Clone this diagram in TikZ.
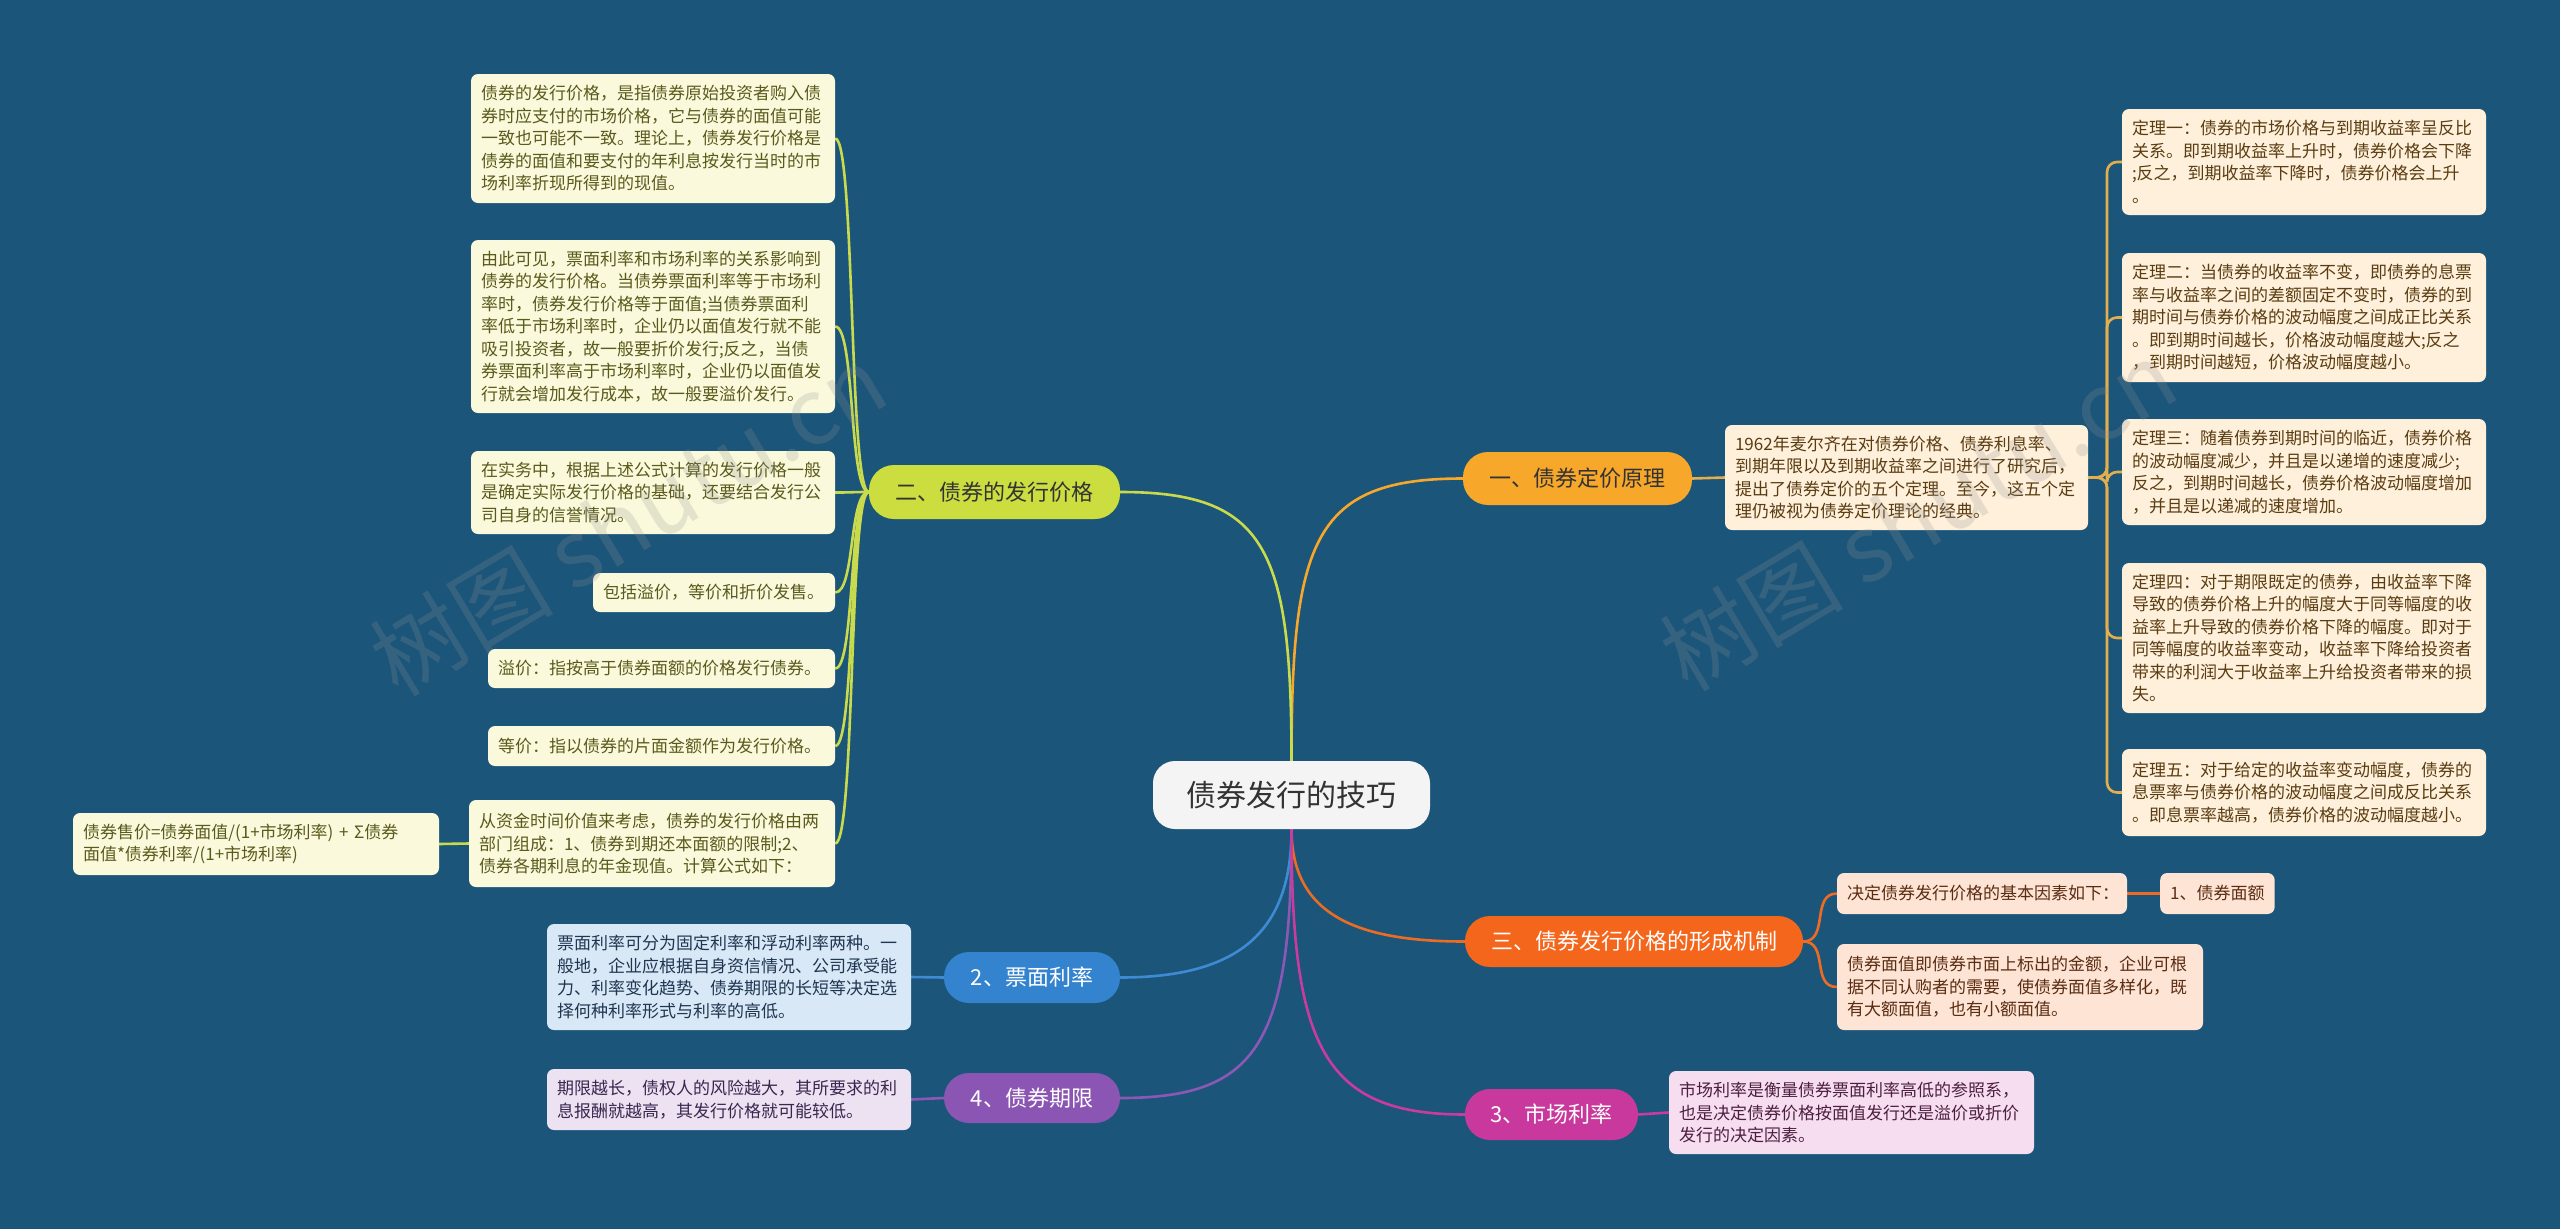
\documentclass[tikz,border=0pt]{standalone}
\usepackage{fontspec}
\setmainfont{Noto Sans CJK SC}
\usetikzlibrary{calc}
\pgfdeclarelayer{back}
\pgfdeclarelayer{bg}
\pgfsetlayers{back,bg,main}
\definecolor{bgc}{HTML}{1B5579}
\definecolor{gfill}{HTML}{FAF9DC}
\definecolor{gtext}{HTML}{5A5A1C}
\definecolor{gline}{HTML}{C9DB4C}
\definecolor{gnode}{HTML}{CBDD3F}
\definecolor{ofill}{HTML}{FEF0DA}
\definecolor{otext}{HTML}{5A3C12}
\definecolor{oline}{HTML}{E2AE4E}
\definecolor{onode}{HTML}{F7A72A}
\definecolor{rfill}{HTML}{FDE4D4}
\definecolor{rtext}{HTML}{5A2C12}
\definecolor{rline}{HTML}{EC6C24}
\definecolor{rnode}{HTML}{F4661C}
\definecolor{bfill}{HTML}{D8E8F6}
\definecolor{btext}{HTML}{1F3550}
\definecolor{bline}{HTML}{3E8AD4}
\definecolor{bnode}{HTML}{3483CF}
\definecolor{pfill}{HTML}{ECE2F1}
\definecolor{ptext}{HTML}{3B2650}
\definecolor{pline}{HTML}{8C58B6}
\definecolor{pnode}{HTML}{8B55B3}
\definecolor{mfill}{HTML}{F6DDF0}
\definecolor{mtext}{HTML}{4C1F40}
\definecolor{mline}{HTML}{C93C9E}
\definecolor{mnode}{HTML}{C9399D}
\definecolor{cfill}{HTML}{F4F4F4}
\definecolor{ctext}{HTML}{333333}
\tikzset{
  leaf/.style={rounded corners=7pt, align=left, inner xsep=10pt, inner ysep=3pt,
    font=\fontsize{17}{22.5}\selectfont},
  gleaf/.style={leaf, fill=gfill, text=gtext},
  oleaf/.style={leaf, fill=ofill, text=otext},
  rleaf/.style={leaf, fill=rfill, text=rtext},
  bleaf/.style={leaf, fill=bfill, text=btext},
  pleaf/.style={leaf, fill=pfill, text=ptext},
  mleaf/.style={leaf, fill=mfill, text=mtext},
  pill/.style={rounded corners=25pt, inner sep=0pt, align=center,
    font=\fontsize{22}{26}\selectfont},
  conn/.style={line width=2.6pt},
  wmark/.style={rotate=31, opacity=0.22, text=gray!85, font=\fontsize{92}{92}\selectfont}
}
\begin{document}
\begin{tikzpicture}[x=1pt,y=-1pt]
\useasboundingbox (0,0) rectangle (2560,1229);
\begin{pgfonlayer}{back}
\fill[bgc] (0,0) rectangle (2560,1229);
\end{pgfonlayer}

% central node
\node[rounded corners=22pt, fill=cfill, text=ctext, minimum width=277pt, minimum height=68pt,
  font=\fontsize{30}{34}\selectfont] (c) at (1291.5,795) {债券发行的技巧};

% main branches
\node[pill, fill=onode, text=ctext, minimum width=229pt, minimum height=53pt] (n1) at (1577.5,478.5) {一、债券定价原理};
\node[pill, fill=gnode, text=ctext, minimum width=251pt, minimum height=54pt] (n2) at (994.5,492) {二、债券的发行价格};
\node[pill, fill=rnode, text=white, minimum width=338pt, minimum height=51pt] (n3) at (1634,941.5) {三、债券发行价格的形成机制};
\node[pill, fill=bnode, text=white, minimum width=176pt, minimum height=51pt] (n4) at (1032,977.5) {2、票面利率};
\node[pill, fill=pnode, text=white, minimum width=176pt, minimum height=50pt] (n5) at (1032,1098) {4、债券期限};
\node[pill, fill=mnode, text=white, minimum width=173pt, minimum height=51pt] (n6) at (1551.5,1114.5) {3、市场利率};

% branch 二 leaves
\node[gleaf, text width=344pt, minimum height=129pt] (g1) at (653,138.5) {债券的发行价格，是指债券原始投资者购入债\\券时应支付的市场价格，它与债券的面值可能\\一致也可能不一致。理论上，债券发行价格是\\债券的面值和要支付的年利息按发行当时的市\\场利率折现所得到的现值。};
\node[gleaf, text width=344pt, minimum height=173pt] (g2) at (653,326.5) {由此可见，票面利率和市场利率的关系影响到\\债券的发行价格。当债券票面利率等于市场利\\率时，债券发行价格等于面值;当债券票面利\\率低于市场利率时，企业仍以面值发行就不能\\吸引投资者，故一般要折价发行;反之，当债\\券票面利率高于市场利率时，企业仍以面值发\\行就会增加发行成本，故一般要溢价发行。};
\node[gleaf, text width=344pt, minimum height=83pt] (g3) at (653,492.5) {在实务中，根据上述公式计算的发行价格一般\\是确定实际发行价格的基础，还要结合发行公\\司自身的信誉情况。};
\node[gleaf, text width=222pt, minimum height=39pt] (g4) at (714,592.5) {包括溢价，等价和折价发售。};
\node[gleaf, text width=327pt, minimum height=39pt] (g5) at (661.5,668.5) {溢价：指按高于债券面额的价格发行债券。};
\node[gleaf, text width=327pt, minimum height=40pt] (g6) at (661.5,746) {等价：指以债券的片面金额作为发行价格。};
\node[gleaf, text width=346pt, minimum height=87pt] (g7) at (652,843.5) {从资金时间价值来考虑，债券的发行价格由两\\部门组成：1、债券到期还本面额的限制;2、\\债券各期利息的年金现值。计算公式如下：};
\node[gleaf, text width=346pt, minimum height=62pt] (gf) at (256,844) {债券售价=债券面值/(1+市场利率) + Σ债券\\面值*债券利率/(1+市场利率)};

% branch 一 leaves
\node[oleaf, text width=343pt, minimum height=105pt] (o0) at (1906.5,477.5) {1962年麦尔齐在对债券价格、债券利息率、\\到期年限以及到期收益率之间进行了研究后，\\提出了债券定价的五个定理。至今，这五个定\\理仍被视为债券定价理论的经典。};
\node[oleaf, text width=344pt, minimum height=106pt] (t1) at (2304,162) {定理一：债券的市场价格与到期收益率呈反比\\关系。即到期收益率上升时，债券价格会下降\\;反之，到期收益率下降时，债券价格会上升\\。};
\node[oleaf, text width=344pt, minimum height=129pt] (t2) at (2304,317.5) {定理二：当债券的收益率不变，即债券的息票\\率与收益率之间的差额固定不变时，债券的到\\期时间与债券价格的波动幅度之间成正比关系\\。即到期时间越长，价格波动幅度越大;反之\\，到期时间越短，价格波动幅度越小。};
\node[oleaf, text width=344pt, minimum height=106pt] (t3) at (2304,472) {定理三：随着债券到期时间的临近，债券价格\\的波动幅度减少，并且是以递增的速度减少;\\反之，到期时间越长，债券价格波动幅度增加\\，并且是以递减的速度增加。};
\node[oleaf, text width=344pt, minimum height=150pt] (t4) at (2304,638) {定理四：对于期限既定的债券，由收益率下降\\导致的债券价格上升的幅度大于同等幅度的收\\益率上升导致的债券价格下降的幅度。即对于\\同等幅度的收益率变动，收益率下降给投资者\\带来的利润大于收益率上升给投资者带来的损\\失。};
\node[oleaf, text width=344pt, minimum height=87pt] (t5) at (2304,792.5) {定理五：对于给定的收益率变动幅度，债券的\\息票率与债券价格的波动幅度之间成反比关系\\。即息票率越高，债券价格的波动幅度越小。};

% branch 三 leaves
\node[rleaf, text width=270pt, minimum height=41pt] (r1) at (1982,893.5) {决定债券发行价格的基本因素如下：};
\node[rleaf, anchor=west, minimum height=41pt] (r2) at (2160,893.5) {1、债券面额};
\node[rleaf, text width=346pt, minimum height=86pt] (r3) at (2020,987) {债券面值即债券市面上标出的金额，企业可根\\据不同认购者的需要，使债券面值多样化，既\\有大额面值，也有小额面值。};

% other leaves
\node[bleaf, text width=344pt, minimum height=106pt] (b1) at (729,977) {票面利率可分为固定利率和浮动利率两种。一\\般地，企业应根据自身资信情况、公司承受能\\力、利率变化趋势、债券期限的长短等决定选\\择何种利率形式与利率的高低。};
\node[pleaf, text width=344pt, minimum height=61pt] (p1) at (729,1099.5) {期限越长，债权人的风险越大，其所要求的利\\息报酬就越高，其发行价格就可能较低。};
\node[mleaf, text width=345pt, minimum height=83pt] (m1) at (1851.5,1112.5) {市场利率是衡量债券票面利率高低的参照系，\\也是决定债券价格按面值发行还是溢价或折价\\发行的决定因素。};

% connectors
\begin{pgfonlayer}{bg}
\draw[conn, draw=onode] (c.north) .. controls (1291.5,539) and (1314,478.5) .. (n1.west);
\draw[conn, draw=gline] (c.north) .. controls (1291.5,547) and (1265,492) .. (n2.east);
\draw[conn, draw=rline] (c.south) .. controls (1291.5,914) and (1355,941.5) .. (n3.west);
\draw[conn, draw=bline] (c.south) .. controls (1291.5,930) and (1241,977.5) .. (n4.east);
\draw[conn, draw=pline] (c.south) .. controls (1291.5,1045) and (1257,1098) .. (n5.east);
\draw[conn, draw=mline] (c.south) .. controls (1291.5,1045) and (1322,1114.5) .. (n6.west);

\foreach \g in {g1,g2,g3,g4,g5,g6,g7}
  \draw[conn, draw=gline] (n2.west) .. controls +(-20,0) and +(20,0) .. (\g.east);
\draw[conn, draw=gline] (g7.west) -- (gf.east);

\draw[conn, draw=oline] (n1.east) -- (o0.west);
\foreach \t in {t1,t2,t3,t4,t5}
  \draw[conn, draw=oline, rounded corners=10pt] (o0.east) -- (2107,477.5) |- (\t.west);

\draw[conn, draw=rline] (n3.east) .. controls +(26,0) and +(-26,0) .. (r1.west);
\draw[conn, draw=rline] (n3.east) .. controls +(26,0) and +(-26,0) .. (r3.west);
\draw[conn, draw=rline] (r1.east) -- (r2.west);

\draw[conn, draw=bline] (b1.east) -- (n4.west);
\draw[conn, draw=pline] (p1.east) -- (n5.west);
\draw[conn, draw=mline] (n6.east) -- (m1.west);
\end{pgfonlayer}

% watermarks
\node[wmark] (w1) at (628,520) {树图 shutu.cn};
\node[wmark] (w2) at (1918,515) {树图 shutu.cn};
\end{tikzpicture}
\end{document}
